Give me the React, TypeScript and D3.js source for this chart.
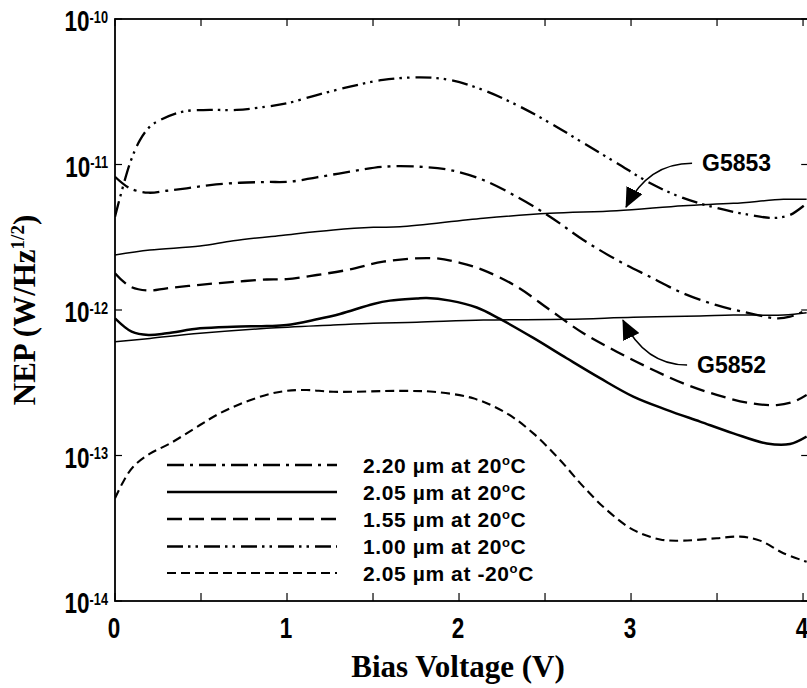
import React from "react";
import * as d3 from "d3";

const W = 807;
const H = 688;

// axis ticks
const xMajorTicks = [0, 1, 2, 3, 4];
const xMinorTicks = [0.5, 1.5, 2.5, 3.5];
const yDecades = [-10, -11, -12, -13, -14];

// 1.00 um at 20C
const bias100 = [0, 0.087, 0.145, 0.203, 0.262, 0.395, 0.552, 0.708, 0.882, 0.998, 1.173, 1.366, 1.558, 1.773, 1.948, 2.14, 2.337, 2.529, 2.721, 2.919, 3.11, 3.302, 3.5, 3.692, 3.826, 3.924, 4.023];
const nep100 = [4.38e-12, 1.02e-11, 1.47e-11, 1.82e-11, 2.02e-11, 2.31e-11, 2.37e-11, 2.37e-11, 2.5e-11, 2.63e-11, 3.0e-11, 3.43e-11, 3.81e-11, 3.97e-11, 3.81e-11, 3.25e-11, 2.56e-11, 1.93e-11, 1.41e-11, 1.02e-11, 7.46e-12, 5.89e-12, 5.02e-12, 4.5e-12, 4.29e-12, 4.5e-12, 5.43e-12];

// 2.20 um at 20C
const bias220 = [0, 0.087, 0.194, 0.301, 0.417, 0.552, 0.727, 0.882, 1.017, 1.173, 1.366, 1.56, 1.773, 1.948, 2.141, 2.335, 2.529, 2.723, 2.917, 3.11, 3.304, 3.498, 3.692, 3.847, 3.924, 4.021];
const nep220 = [8.24e-12, 6.86e-12, 6.4e-12, 6.6e-12, 6.86e-12, 7.22e-12, 7.49e-12, 7.58e-12, 7.62e-12, 8.17e-12, 8.92e-12, 9.65e-12, 9.65e-12, 9.16e-12, 7.82e-12, 6.01e-12, 4.38e-12, 3.03e-12, 2.21e-12, 1.69e-12, 1.3e-12, 1.08e-12, 9.48e-13, 8.77e-13, 8.99e-13, 1.0e-12];

// G5853 device curve
const biasG5853 = [0, 0.203, 0.494, 0.688, 0.979, 1.269, 1.502, 1.657, 2.141, 2.529, 2.917, 3.304, 3.595, 3.886, 4.021];
const nepG5853 = [2.39e-12, 2.58e-12, 2.75e-12, 2.99e-12, 3.27e-12, 3.55e-12, 3.7e-12, 3.73e-12, 4.27e-12, 4.62e-12, 4.81e-12, 5.21e-12, 5.41e-12, 5.76e-12, 5.76e-12];

// 1.55 um at 20C
const bias155 = [0, 0.087, 0.194, 0.301, 0.494, 0.688, 0.882, 0.998, 1.173, 1.366, 1.56, 1.851, 2.006, 2.141, 2.335, 2.529, 2.723, 2.917, 3.11, 3.304, 3.498, 3.692, 3.847, 3.944, 4.021];
const nep155 = [1.79e-12, 1.45e-12, 1.36e-12, 1.41e-12, 1.49e-12, 1.56e-12, 1.62e-12, 1.63e-12, 1.74e-12, 1.9e-12, 2.15e-12, 2.27e-12, 2.11e-12, 1.88e-12, 1.45e-12, 1.0e-12, 6.92e-13, 5.17e-13, 3.97e-13, 3.13e-13, 2.61e-13, 2.29e-13, 2.22e-13, 2.34e-13, 2.61e-13];

// 2.05 um at 20C
const bias205 = [0, 0.097, 0.194, 0.301, 0.494, 0.688, 0.882, 0.998, 1.173, 1.308, 1.502, 1.599, 1.754, 1.812, 1.948, 2.103, 2.238, 2.432, 2.626, 2.82, 3.013, 3.207, 3.401, 3.595, 3.789, 3.924, 4.021];
const nep205 = [8.77e-13, 7.1e-13, 6.73e-13, 6.91e-13, 7.48e-13, 7.68e-13, 7.76e-13, 7.88e-13, 8.63e-13, 9.39e-13, 1.1e-12, 1.16e-12, 1.2e-12, 1.21e-12, 1.16e-12, 1.04e-12, 8.68e-13, 6.43e-13, 4.66e-13, 3.4e-13, 2.54e-13, 2.06e-13, 1.71e-13, 1.42e-13, 1.21e-13, 1.2e-13, 1.35e-13];

// G5852 device curve
const biasG5852 = [0, 0.203, 0.494, 0.882, 1.269, 1.502, 1.754, 2.141, 2.626, 3.013, 3.401, 3.595, 3.886, 4.021];
const nepG5852 = [6.05e-13, 6.38e-13, 6.91e-13, 7.48e-13, 7.88e-13, 8.11e-13, 8.23e-13, 8.53e-13, 8.63e-13, 8.91e-13, 9.1e-13, 9.24e-13, 9.24e-13, 9.58e-13];

// 2.05 um at -20C
const bias205c = [0, 0.048, 0.106, 0.203, 0.32, 0.494, 0.591, 0.688, 0.785, 0.901, 0.998, 1.115, 1.269, 1.657, 1.851, 2.083, 2.277, 2.432, 2.587, 2.723, 2.859, 3.013, 3.169, 3.304, 3.498, 3.634, 3.75, 3.886, 4.021];
const nep205c = [5.08e-14, 6.61e-14, 8.38e-14, 1.03e-13, 1.21e-13, 1.62e-13, 1.9e-13, 2.16e-13, 2.4e-13, 2.65e-13, 2.78e-13, 2.82e-13, 2.74e-13, 2.78e-13, 2.74e-13, 2.47e-13, 1.95e-13, 1.42e-13, 9.31e-14, 6.11e-14, 4.22e-14, 3.08e-14, 2.65e-14, 2.6e-14, 2.7e-14, 2.77e-14, 2.6e-14, 2.13e-14, 1.86e-14];

// legend
const legendLabels = ["2.20 µm at 20", "2.05 µm at 20", "1.55 µm at 20", "1.00 µm at 20", "2.05 µm at -20"];
const legendDash = ["17,6,3,6", "", "15,7", "16,5,2.5,5,2.5,6", "9,5"];
const legendWidth = [2.4, 2.4, 2.4, 2.4, 2.2];

// annotations: label anchor (bias, NEP) and arrow tip (bias, NEP)
const annoText = ["G5853", "G5852"];
const annoLabelBias = [3.413, 3.384];
const annoLabelNep = [1.02e-11, 4.19e-13];
const annoTipBias = [2.971, 2.953];
const annoTipNep = [5.1e-12, 8.53e-13];

const SANS = "'Liberation Sans', Arial, Helvetica, sans-serif";
const SERIF = "'Liberation Serif', 'Times New Roman', Times, serif";

export default function App() {
  const left = 115, right = 808.2, top = 19, bottom = 601;
  const x = d3.scaleLinear().domain([0, 4.03]).range([left, right]);
  const y = d3.scaleLog().domain([1e-14, 1e-10]).range([bottom, top]);

  const line = d3
    .line<[number, number]>()
    .x((d) => x(d[0]))
    .y((d) => y(d[1]))
    .curve(d3.curveCatmullRom.alpha(0.5));

  const zip = (a: number[], b: number[]) => a.map((v, i) => [v, b[i]] as [number, number]);

  const series = [
    { b: bias100, n: nep100, dash: legendDash[3], w: 2.3 },
    { b: bias220, n: nep220, dash: legendDash[0], w: 2.3 },
    { b: biasG5853, n: nepG5853, dash: "", w: 1.5 },
    { b: bias155, n: nep155, dash: legendDash[2], w: 2.3 },
    { b: bias205, n: nep205, dash: "", w: 2.5 },
    { b: biasG5852, n: nepG5852, dash: "", w: 1.5 },
    { b: bias205c, n: nep205c, dash: legendDash[4], w: 2.1 },
  ];

  const legendY = [465, 492, 519, 546.5, 573];

  return (
    <svg
      width={W}
      height={H}
      viewBox={`0 0 ${W} ${H}`}
      style={{ position: "absolute", left: 0, top: 0, background: "#fff" }}
    >
      <defs>
        <clipPath id="plot">
          <rect x={left} y={top} width={right - left} height={bottom - top} />
        </clipPath>
        <marker id="arrow" viewBox="0 0 20 18" refX="19" refY="9" markerWidth="20" markerHeight="18" markerUnits="userSpaceOnUse" orient="auto">
          <path d="M0,0 L20,9 L0,18 Z" fill="#000" />
        </marker>
      </defs>
      <rect x={0} y={0} width={W} height={H} fill="#fff" />

      {/* curves */}
      <g clipPath="url(#plot)" fill="none" stroke="#000">
        {series.map((s, i) => (
          <path key={i} d={line(zip(s.b, s.n)) || ""} strokeWidth={s.w} strokeDasharray={s.dash || undefined} />
        ))}
      </g>

      {/* frame */}
      <rect x={left} y={top} width={right - left} height={bottom - top} fill="none" stroke="#000" strokeWidth={1.8} />

      {/* ticks */}
      <g stroke="#000" strokeWidth={1.2}>
        {[...xMajorTicks, ...xMinorTicks].map((t, i) => (
          <g key={i}>
            <line x1={x(t)} x2={x(t)} y1={bottom} y2={bottom - 8} />
            <line x1={x(t)} x2={x(t)} y1={top} y2={top + 7} />
          </g>
        ))}
        {yDecades.map((e, i) => (
          <g key={i}>
            <line x1={left} x2={left + 7} y1={y(Math.pow(10, e))} y2={y(Math.pow(10, e))} />
            <line x1={right - 7} x2={right} y1={y(Math.pow(10, e))} y2={y(Math.pow(10, e))} />
          </g>
        ))}
      </g>

      {/* x tick labels (condensed) */}
      <g fontFamily={SANS} fontSize={30} fontWeight="bold" textAnchor="middle" fill="#000">
        {xMajorTicks.map((t) => (
          <text key={t} transform={`translate(${x(t) - 1}, 638) scale(0.75, 1)`}>
            {t}
          </text>
        ))}
      </g>

      {/* y tick labels (condensed) */}
      <g fontFamily={SANS} fontWeight="bold" fill="#000">
        {yDecades.map((e) => (
          <text
            key={e}
            transform={`translate(108, ${y(Math.pow(10, e)) + 12}) scale(0.75, 1)`}
            textAnchor="end"
            fontSize={30}
          >
            10
            <tspan dy={-8.5} fontSize={17}>
              {String(e)}
            </tspan>
          </text>
        ))}
      </g>

      {/* axis titles */}
      <text x={458} y={677} textAnchor="middle" fontFamily={SERIF} fontWeight="bold" fontSize={31} fill="#000">
        Bias Voltage (V)
      </text>
      <text
        transform={`translate(35, ${(top + bottom) / 2}) rotate(-90)`}
        textAnchor="middle"
        fontFamily={SERIF}
        fontWeight="bold"
        fontSize={31}
        fill="#000"
      >
        NEP (W/Hz
        <tspan dy={-11} fontSize={19}>1/2</tspan>
        <tspan dy={11}>)</tspan>
      </text>

      {/* legend */}
      <g>
        {legendLabels.map((lab, i) => (
          <g key={i}>
            <line
              x1={167}
              x2={337}
              y1={legendY[i]}
              y2={legendY[i]}
              stroke="#000"
              strokeWidth={legendWidth[i]}
              strokeDasharray={legendDash[i] || undefined}
            />
            <text x={363} y={legendY[i] + 7.5} fontFamily={SANS} fontWeight="bold" fontSize={21} letterSpacing={0.6} fill="#000">
              {lab}
              <tspan dy={-7.5} fontSize={13}>o</tspan>
              <tspan dy={7.5}>C</tspan>
            </text>
          </g>
        ))}
      </g>

      {/* annotations */}
      {annoText.map((t, i) => {
        const lx = x(annoLabelBias[i]);
        const ly = y(annoLabelNep[i]);
        const tx = x(annoTipBias[i]);
        const ty = y(annoTipNep[i]);
        const sx = lx - 10;
        const cx = tx + 22;
        const cy = ly;
        return (
          <g key={t}>
            <path
              d={`M${sx},${ly} Q${cx},${cy} ${tx},${ty}`}
              fill="none"
              stroke="#000"
              strokeWidth={1.5}
              markerEnd="url(#arrow)"
            />
            <text x={lx} y={ly + 8} fontFamily={SANS} fontWeight="bold" fontSize={23} fill="#000">
              {t}
            </text>
          </g>
        );
      })}
    </svg>
  );
}
